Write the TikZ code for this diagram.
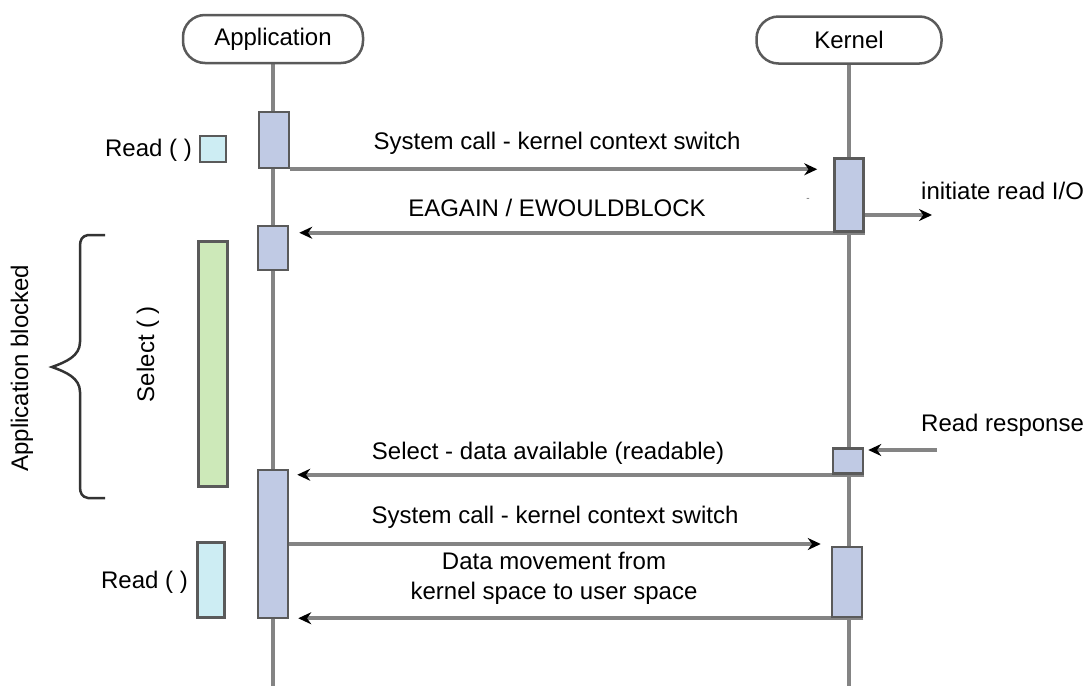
\documentclass[tikz,border=0pt]{standalone}
\usepackage{fontspec}
\setmainfont{Liberation Sans}
\usetikzlibrary{arrows.meta}
\pgfdeclarelayer{background}
\pgfsetlayers{background,main}
\definecolor{lifegray}{HTML}{848484}
\definecolor{boxedge}{HTML}{5A5A5A}
\definecolor{actfill}{HTML}{C0CAE4}
\definecolor{readfill}{HTML}{CDEDF3}
\definecolor{selfill}{HTML}{CDE9B9}
\tikzset{
  every node/.style={font=\fontsize{24}{28}\selectfont, text=black},
  header/.style={draw=boxedge, line width=2.5pt, rounded corners=22pt, fill=white, inner sep=0pt},
  act/.style={draw=boxedge, line width=2.5pt, fill=actfill, inner sep=0pt},
  readbox/.style={draw=boxedge, line width=2.5pt, fill=readfill, inner sep=0pt},
  selbox/.style={draw=boxedge, line width=2.5pt, fill=selfill, inner sep=0pt},
  life/.style={draw=lifegray, line width=4pt},
  msg/.style={draw=lifegray, line width=4pt, -{Stealth[black,length=13pt,width=12pt]}},
  lbl/.style={inner sep=0pt},
}
\begin{document}
\begin{tikzpicture}[x=1pt,y=-1pt]
\useasboundingbox (0,0) rectangle (1089,686);
% headers
\node[header, minimum width=180, minimum height=48] (apph) at (273,39) {Application};
\node[header, minimum width=185, minimum height=47] (kerh) at (849,40) {Kernel};
\coordinate (append) at (273,686);
\coordinate (kerend) at (849,686);
% activation boxes
\node[act, minimum width=30, minimum height=56] (a1) at (274,140) {};
\node[act, minimum width=30, minimum height=44] (a2) at (273,248) {};
\node[act, minimum width=30, minimum height=148] (a3) at (273,544) {};
\node[act, minimum width=29, minimum height=73] (k1) at (849,195) {};
\node[act, minimum width=30, minimum height=25] (k2) at (848,461) {};
\node[act, minimum width=30, minimum height=70] (k3) at (847,582) {};
% left side
\node[readbox, minimum width=26, minimum height=26] (r1) at (213,149) {};
\node[lbl, anchor=east] (r1l) at (192,150) {Read ( )};
\node[selbox, minimum width=29, minimum height=245] (sel) at (213,364) {};
\node[lbl, rotate=90] (sell) at (148,354) {Select ( )};
\node[readbox, minimum width=27, minimum height=75] (r2) at (211,580) {};
\node[lbl, anchor=east] (r2l) at (188,582) {Read ( )};
\node[lbl, rotate=90] (blk) at (22,368) {Application blocked};
\draw[draw=black!80, line width=2.5pt] (105,235) -- (88,235) .. controls (82,236) and (80,240) .. (80,246)
  -- (80,342) .. controls (80,356) and (66,362) .. (52,367)
  .. controls (66,372) and (80,378) .. (80,392)
  -- (80,487) .. controls (80,493) and (82,497) .. (88,498) -- (105,498);
% coordinates for free ends
\coordinate (ioend) at (932,215);
\coordinate (rrstart) at (937,450);
% labels
\node[lbl] (m1) at (557,143) {System call - kernel context switch};
\node[lbl] (m2) at (557,208) {EAGAIN / EWOULDBLOCK};
\node[lbl, anchor=west] (io) at (921,191) {initiate read I/O};
\node[lbl, anchor=west] (rr) at (921,425) {Read response};
\node[lbl] (m5) at (548,453) {Select - data available (readable)};
\node[lbl] (m6) at (555,517) {System call - kernel context switch};
\node[lbl, align=center, font=\fontsize{24}{30}\selectfont] (m7) at (554,578) {Data movement from\\kernel space to user space};
\node[lbl, font=\fontsize{10}{12}\selectfont, text=black!60] (dash) at (808,200) {-};
\begin{pgfonlayer}{background}
\draw[life] (apph.south) -- (append);
\draw[life] (kerh.south) -- (kerend);
\draw[msg, shorten >=16pt] (a1.south east) -- (a1.south east -| k1.west);
\draw[msg, shorten >=10pt] (k1.south east) -- (k1.south east -| a2.east);
\draw[msg] ([yshift=-20pt]k1.east) -- (ioend);
\draw[msg, shorten >=4pt] (rrstart) -- (rrstart -| k2.east);
\draw[msg, shorten >=8pt] (k2.south east) -- (k2.south east -| a3.east);
\draw[msg, shorten >=10pt] (a3.east) -- (a3.east -| k3.west);
\draw[msg, shorten >=9pt] (k3.south east) -- (k3.south east -| a3.east);
\end{pgfonlayer}
\end{tikzpicture}
\end{document}
